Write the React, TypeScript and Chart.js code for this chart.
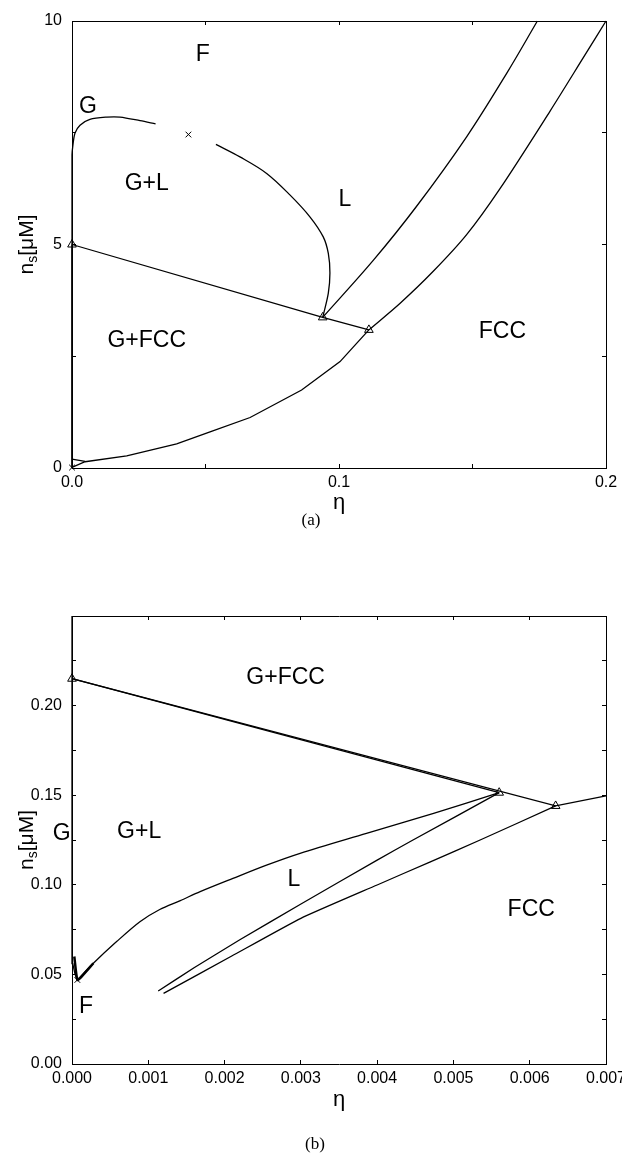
import React, { useEffect, useRef } from 'react';
import { Chart, registerables } from 'chart.js';

Chart.register(...registerables);

const FONT = '"Liberation Sans", Arial, Helvetica, sans-serif';
const SERIF = '"Liberation Serif", "Times New Roman", serif';

// ---------------- Panel (a) ----------------
const aXTicks = [0, 0.05, 0.1, 0.15, 0.2];
const aXTickLabels = ['0.0', '', '0.1', '', '0.2'];
const aYTicks = [0, 2.5, 5, 7.5, 10];
const aYTickLabels = ['0', '', '5', '', '10'];

// gas binodal (G)
const aGasEta = [0, 0, 0, 0.0003, 0.0011, 0.003, 0.0067, 0.013, 0.018, 0.0255, 0.0313];
const aGasN = [0, 3.5, 7.0, 7.2, 7.49, 7.67, 7.8, 7.85, 7.85, 7.77, 7.7];
// liquid binodal (L)
const aLiqEta = [0.0539, 0.0629, 0.0729, 0.0816, 0.0891, 0.0941, 0.096, 0.0966, 0.096, 0.0939];
const aLiqN = [7.24, 6.96, 6.59, 6.11, 5.62, 5.17, 4.8, 4.36, 3.91, 3.37];
// triple line
const aTripleEta = [0, 0.0939, 0.1112];
const aTripleN = [5, 3.37, 3.09];
// gas side of G+FCC
const aGfccEta = [0, 0];
const aGfccN = [0, 5];
// liquidus
const aLiquidusEta = [0.0939, 0.1129, 0.129, 0.1478, 0.1628, 0.1743];
const aLiquidusN = [3.37, 4.65, 5.85, 7.41, 8.83, 10.0];
// solidus (FCC), lower part
const aSolidusLowEta = [0, 0.0049, 0.0205, 0.0392, 0.0517, 0.0667, 0.086, 0.1004, 0.1054, 0.1112];
const aSolidusLowN = [0.015, 0.14, 0.27, 0.54, 0.81, 1.13, 1.745, 2.38, 2.71, 3.09];
// solidus (FCC), upper part
const aSolidusHighEta = [0.1112, 0.1228, 0.1353, 0.1478, 0.1603, 0.179, 0.1915, 0.2];
const aSolidusHighN = [3.09, 3.68, 4.4, 5.22, 6.25, 7.98, 9.18, 10.0];
// small wedge near origin
const aWedgeEta = [0, 0.0049];
const aWedgeN = [0.2, 0.15];
// markers
const aTriEta = [0, 0.0939, 0.1112];
const aTriN = [5, 3.37, 3.09];
const aCritEta = [0.0436, 0];
const aCritN = [7.46, 0.01];
// region labels
const aLabelText = ['F', 'G', 'G+L', 'L', 'G+FCC', 'FCC'];
const aLabelEta = [0.049, 0.006, 0.028, 0.1022, 0.028, 0.1612];
const aLabelN = [9.24, 8.08, 6.35, 6.0, 2.86, 3.05];

// ---------------- Panel (b) ----------------
const bXTicks = [0, 0.001, 0.002, 0.003, 0.004, 0.005, 0.006, 0.007];
const bXTickLabels = ['0.000', '0.001', '0.002', '0.003', '0.004', '0.005', '0.006', '0.007'];
const bYTicks = [0, 0.025, 0.05, 0.075, 0.1, 0.125, 0.15, 0.175, 0.2, 0.225, 0.25];
const bYTickLabels = ['0.00', '', '0.05', '', '0.10', '', '0.15', '', '0.20', '', ''];

const bGasEta = [0.00007, 0.00004, 0.00001, 0, 0];
const bGasN = [0.0469, 0.05, 0.056, 0.062, 0.25];
const bLiqEta = [0.00007, 0.00028, 0.000585, 0.00089, 0.00115, 0.00142, 0.00168, 0.00211, 0.00255, 0.00299, 0.00386, 0.00474, 0.0056];
const bLiqN = [0.0469, 0.0562, 0.0683, 0.0794, 0.0862, 0.0912, 0.0962, 0.1036, 0.111, 0.1176, 0.1287, 0.1399, 0.1514];
const bThickEta = [0.00003, 0.00007, 0.00012, 0.00028];
const bThickN = [0.06, 0.0469, 0.0485, 0.0562];
const bTripleLEta = [0, 0.0056];
const bTripleLN = [0.215, 0.1514];
const bTripleSEta = [0, 0.00634, 0.007];
const bTripleSN = [0.215, 0.144, 0.1496];
const bLiquidusEta = [0.00113, 0.0016, 0.0022, 0.00299, 0.004, 0.00447, 0.0056];
const bLiquidusN = [0.0407, 0.0537, 0.0693, 0.089, 0.1138, 0.125, 0.1514];
const bSolidusEta = [0.0012, 0.0021, 0.003, 0.004, 0.00469, 0.00535, 0.00634];
const bSolidusN = [0.0394, 0.0604, 0.0813, 0.0999, 0.1127, 0.125, 0.144];
const bTriEta = [0, 0.0056, 0.00634];
const bTriN = [0.215, 0.1514, 0.144];
const bCritEta = [0.00007];
const bCritN = [0.0469];
const bLabelText = ['G+FCC', 'G', 'G+L', 'L', 'F', 'FCC'];
const bLabelEta = [0.0028, -0.000135, 0.00088, 0.00291, 0.000183, 0.00602];
const bLabelN = [0.2154, 0.1287, 0.1296, 0.1027, 0.032, 0.0859];

// ---------------- helpers ----------------
const pts = (xs: number[], ys: number[]) => xs.map((x, i) => ({ x, y: ys[i] }));

const curve = (xs: number[], ys: number[], width = 1.3, tension = 0) => ({
  data: pts(xs, ys),
  showLine: true,
  borderColor: '#000',
  borderWidth: width,
  pointRadius: 0,
  fill: false,
  tension,
  clip: false,
});

const markers = (xs: number[], ys: number[], style: string, r = 4.5) => ({
  data: pts(xs, ys),
  showLine: false,
  pointStyle: style,
  pointRadius: r,
  pointBorderColor: '#000',
  pointBackgroundColor: 'rgba(0,0,0,0)',
  pointBorderWidth: 1,
  clip: false,
});

function scaleCfg(axis: 'x' | 'y', position: string, min: number, max: number,
  ticks: number[], labels: string[], showLabels: boolean, size: number) {
  return {
    type: 'linear',
    axis,
    position,
    min,
    max,
    afterBuildTicks: (s: any) => { s.ticks = ticks.map((v) => ({ value: v })); },
    afterFit: (s: any) => {
      if (axis === 'x') s.height = size; else s.width = size;
      s.paddingLeft = 0; s.paddingRight = 0; s.paddingTop = 0; s.paddingBottom = 0;
    },
    ticks: {
      display: showLabels,
      autoSkip: false,
      maxRotation: 0,
      minRotation: 0,
      padding: axis === 'x' ? 9 : 14,
      font: { family: FONT, size: 16 },
      color: '#000',
      callback: (_v: any, i: number) => labels[i] ?? '',
    },
    grid: { drawOnChartArea: false, drawTicks: true, tickLength: -4, color: '#000', lineWidth: 1 },
    border: { display: true, color: '#000', width: 1 },
  };
}

function annotPlugin(texts: string[], xs: number[], ys: number[], titleY: number, caption: string, captionX: number, captionY: number) {
  return {
    id: 'annot',
    afterDraw(chart: any) {
      const { ctx, chartArea, scales } = chart;
      ctx.save();
      ctx.fillStyle = '#000';
      ctx.textAlign = 'center';
      ctx.textBaseline = 'middle';
      ctx.font = `23px ${FONT}`;
      texts.forEach((t, i) => {
        ctx.fillText(t, scales.x.getPixelForValue(xs[i]), scales.y.getPixelForValue(ys[i]));
      });
      // x title
      ctx.font = `22px ${FONT}`;
      ctx.fillText('η', (chartArea.left + chartArea.right) / 2, titleY);
      // caption
      ctx.font = `17px ${SERIF}`;
      ctx.fillText(caption, captionX, captionY);
      // y title n_s[μM]
      ctx.save();
      ctx.translate(27, (chartArea.top + chartArea.bottom) / 2);
      ctx.rotate(-Math.PI / 2);
      const big = `21px ${FONT}`;
      const small = `14px ${FONT}`;
      ctx.font = big;
      const wn = ctx.measureText('n').width;
      const wr = ctx.measureText('[μM]').width;
      ctx.font = small;
      const ws = ctx.measureText('s').width;
      const total = wn + ws + wr;
      let x0 = -total / 2;
      ctx.textAlign = 'left';
      ctx.font = big;
      ctx.fillText('n', x0, 0);
      x0 += wn;
      ctx.font = small;
      ctx.fillText('s', x0, 6);
      x0 += ws;
      ctx.font = big;
      ctx.fillText('[μM]', x0, 0);
      ctx.restore();
      ctx.restore();
    },
  };
}

function baseOptions(scales: any) {
  return {
    responsive: false,
    maintainAspectRatio: false,
    animation: false,
    devicePixelRatio: 1,
    events: [],
    layout: { padding: 0, autoPadding: false },
    plugins: { legend: { display: false }, tooltip: { enabled: false } },
    scales,
  };
}

function buildA(): any {
  return {
    type: 'scatter',
    data: {
      datasets: [
        curve(aGasEta, aGasN, 1.3, 0.3),
        curve(aLiqEta, aLiqN, 1.3, 0.35),
        curve(aTripleEta, aTripleN),
        curve(aGfccEta, aGfccN),
        curve(aLiquidusEta, aLiquidusN, 1.3, 0.35),
        curve(aSolidusLowEta, aSolidusLowN, 1.3, 0),
        curve(aSolidusHighEta, aSolidusHighN, 1.3, 0.3),
        curve(aWedgeEta, aWedgeN),
        markers(aTriEta, aTriN, 'triangle', 5),
        markers(aCritEta, aCritN, 'crossRot', 4),
      ],
    },
    options: baseOptions({
      x: scaleCfg('x', 'bottom', 0, 0.2, aXTicks, aXTickLabels, true, 72),
      x2: scaleCfg('x', 'top', 0, 0.2, aXTicks, aXTickLabels, false, 21),
      y: scaleCfg('y', 'left', 0, 10, aYTicks, aYTickLabels, true, 72),
      y2: scaleCfg('y', 'right', 0, 10, aYTicks, aYTickLabels, false, 16),
    }),
    plugins: [annotPlugin(aLabelText, aLabelEta, aLabelN, 503, '(a)', 311, 521)],
  };
}

function buildB(): any {
  return {
    type: 'scatter',
    data: {
      datasets: [
        curve(bGasEta, bGasN),
        curve(bLiqEta, bLiqN, 1.3, 0.3),
        curve(bThickEta, bThickN, 2.5, 0.2),
        curve(bTripleLEta, bTripleLN),
        curve(bTripleSEta, bTripleSN),
        curve(bLiquidusEta, bLiquidusN, 1.3, 0.15),
        curve(bSolidusEta, bSolidusN, 1.3, 0.15),
        markers(bTriEta, bTriN, 'triangle', 5),
        markers(bCritEta, bCritN, 'crossRot', 4),
      ],
    },
    options: baseOptions({
      x: scaleCfg('x', 'bottom', 0, 0.007, bXTicks, bXTickLabels, true, 94),
      x2: scaleCfg('x', 'top', 0, 0.007, bXTicks, bXTickLabels, false, 56),
      y: scaleCfg('y', 'left', 0, 0.25, bYTicks, bYTickLabels, true, 72),
      y2: scaleCfg('y', 'right', 0, 0.25, bYTicks, bYTickLabels, false, 16),
    }),
    plugins: [annotPlugin(bLabelText, bLabelEta, bLabelN, 540, '(b)', 315, 585)],
  };
}

export default function App() {
  const aRef = useRef<HTMLCanvasElement>(null);
  const bRef = useRef<HTMLCanvasElement>(null);
  useEffect(() => {
    const ca = new Chart(aRef.current as HTMLCanvasElement, buildA());
    const cb = new Chart(bRef.current as HTMLCanvasElement, buildB());
    return () => { ca.destroy(); cb.destroy(); };
  }, []);
  return (
    <div style={{ position: 'absolute', left: 0, top: 0, width: 622, height: 1158, background: '#fff', overflow: 'hidden' }}>
      <canvas ref={aRef} width={622} height={540} style={{ position: 'absolute', left: 0, top: 0, width: 622, height: 540 }} />
      <canvas ref={bRef} width={622} height={598} style={{ position: 'absolute', left: 0, top: 560, width: 622, height: 598 }} />
    </div>
  );
}
